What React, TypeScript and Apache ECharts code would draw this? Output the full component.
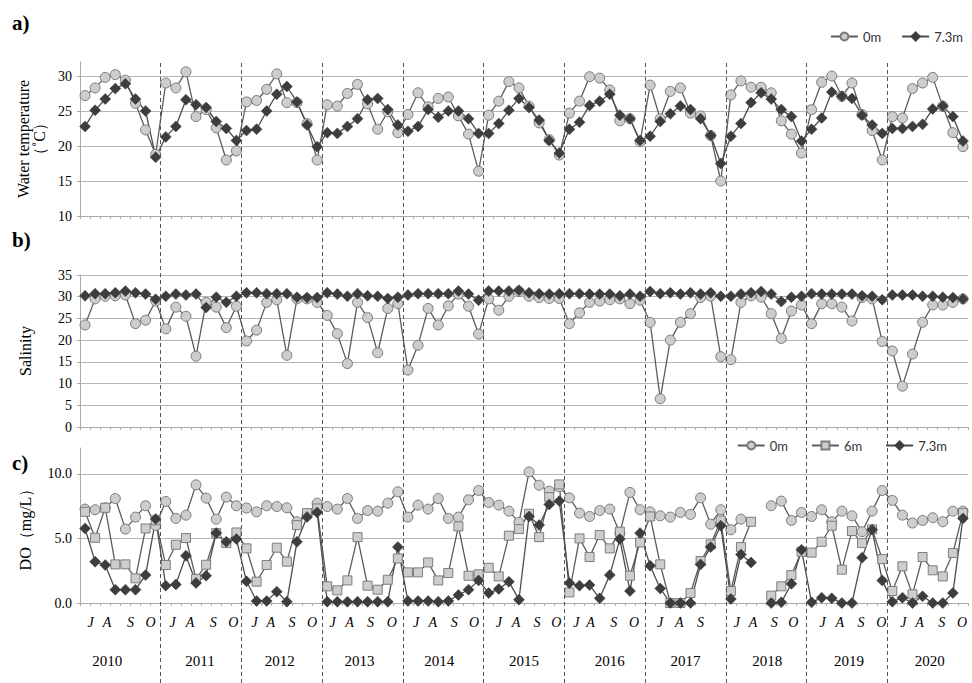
import React, { useEffect, useRef } from 'react';
import * as echarts from 'echarts';

const years = ['2010', '2011', '2012', '2013', '2014', '2015', '2016', '2017', '2018', '2019', '2020'];
const samplesPerYear = 8;
const categories = years.flatMap((y) => Array.from({ length: samplesPerYear }, (_, i) => `${y}-${i + 1}`));

// a) Water temperature (°C)
const temp0m = [
  27.2, 28.3, 29.8, 30.2, 29.4, 26.1, 22.3, 18.8,
  29.0, 28.3, 30.6, 24.2, 25.2, 22.6, 18.0, 19.3,
  26.3, 26.5, 28.1, 30.3, 26.2, 26.2, 23.2, 18.0,
  25.9, 25.7, 27.5, 28.8, 26.0, 22.4, 24.9, 21.9,
  24.5, 27.6, 25.6, 26.8, 27.0, 24.3, 21.7, 16.4,
  24.4, 26.4, 29.2, 28.3, 25.7, 23.3, 20.9, 18.7,
  24.7, 26.4, 29.9, 29.7, 28.0, 23.6, 23.9, 20.6,
  28.7, 23.9, 27.8, 28.3, 24.7, 24.3, 21.5, 15.0,
  27.3, 29.3, 28.4, 28.4, 27.6, 23.6, 21.7, 19.0,
  25.2, 29.1, 30.0, 27.1, 29.0, 24.5, 22.2, 18.0,
  24.2, 24.0, 28.2, 29.0, 29.8, 25.7, 21.9, 19.9,
];
const temp73m = [
  22.8, 25.1, 26.7, 28.2, 28.9, 26.7, 25.0, 18.4,
  21.3, 22.8, 26.6, 25.9, 25.5, 23.5, 22.5, 20.8,
  22.2, 22.4, 25.0, 27.4, 28.5, 26.3, 23.0, 19.9,
  21.9, 21.8, 22.8, 23.9, 26.6, 26.8, 25.2, 23.0,
  22.1, 22.8, 25.2, 24.1, 25.0, 25.0, 23.9, 21.8,
  21.8, 23.2, 25.1, 26.8, 25.5, 23.7, 20.8, 19.0,
  22.4, 23.4, 25.8, 26.4, 27.4, 24.4, 23.9, 20.8,
  21.4, 23.5, 24.6, 25.7, 25.2, 23.9, 21.5, 17.5,
  21.4, 23.2, 26.2, 27.6, 26.7, 25.2, 24.2, 20.7,
  22.4, 24.0, 27.7, 27.1, 26.8, 24.4, 23.0, 21.8,
  22.5, 22.5, 22.8, 23.1, 25.3, 25.7, 24.2, 20.7,
];

// b) Salinity
const sal0m = [
  23.5, 29.5, 30.1, 30.2, 30.4, 23.8, 24.6, 29.0,
  22.6, 27.6, 25.5, 16.3, 28.7, 27.6, 22.9, 27.8,
  19.8, 22.3, 28.7, 29.3, 16.5, 29.5, 29.5, 28.7,
  25.7, 21.5, 14.6, 28.7, 25.2, 17.1, 27.3, 28.4,
  13.1, 18.8, 27.3, 23.5, 27.9, 30.6, 27.8, 21.4,
  29.5, 26.9, 30.1, 31.2, 30.1, 29.8, 29.6, 29.6,
  23.8, 26.3, 28.7, 29.0, 29.3, 29.5, 28.4, 29.2,
  24.1, 6.5, 20.0, 24.1, 26.1, 29.8, 30.1, 16.2,
  15.5, 28.7, 30.2, 29.9, 26.1, 20.4, 26.7, 28.1,
  23.8, 28.4, 28.4, 27.6, 24.4, 29.8, 29.5, 19.7,
  17.5, 9.4, 16.8, 24.1, 28.1, 28.1, 28.7, 29.5,
];
const sal73m = [
  30.2, 30.7, 30.7, 30.9, 31.3, 30.9, 30.6, 29.4,
  30.1, 30.6, 30.4, 30.6, 27.5, 29.9, 28.7, 30.1,
  30.9, 30.9, 30.7, 30.7, 30.7, 29.9, 29.8, 29.8,
  30.9, 30.6, 30.1, 30.7, 30.2, 30.1, 29.6, 29.9,
  30.4, 30.7, 30.7, 30.7, 30.7, 31.3, 30.6, 29.2,
  31.3, 31.3, 31.3, 31.5, 30.9, 30.7, 30.6, 30.7,
  30.7, 30.7, 30.6, 30.6, 30.6, 30.2, 30.6, 30.1,
  31.2, 30.7, 30.9, 30.6, 30.9, 30.6, 30.9, 30.1,
  30.1, 30.6, 30.9, 31.2, 30.6, 28.9, 29.9, 30.1,
  30.7, 30.6, 30.6, 30.6, 30.6, 30.2, 30.1, 29.3,
  30.4, 30.4, 30.4, 30.1, 30.1, 29.9, 29.8, 29.5,
];

// c) DO (mg/L)
const do0m = [
  7.27, 7.22, 7.37, 8.09, 5.72, 6.65, 7.53, 6.0,
  7.86, 6.55, 6.8, 9.15, 8.12, 6.49, 8.2, 7.53,
  7.35, 7.06, 7.53, 7.47, 7.37, 6.29, 6.86, 7.73,
  7.47, 7.27, 8.09, 6.55, 7.16, 7.11, 7.73, 8.61,
  6.65, 7.58, 7.27, 8.09, 6.55, 6.65, 7.99, 8.71,
  7.78, 7.58, 7.11, 6.24, 10.15, 9.12, 8.66, 9.0,
  8.14, 6.96, 6.7, 7.16, 7.27, 5.41, 8.56, 7.22,
  7.06, 6.75, 6.65, 7.01, 6.86, 8.14, 6.1, 7.22,
  5.67, 6.49, null, null, 7.53, 7.89, 6.39, 7.01,
  6.7, 7.22, 6.29, 7.11, 6.75, 5.52, 7.11, 8.71,
  7.94, 6.8, 6.19, 6.39, 6.6, 6.29, 7.11, 7.11,
];
const do6m = [
  7.06, 5.05, 7.37, 2.99, 2.99, 1.91, 5.77, 6.4,
  2.94, 4.51, 5.03, 1.86, 2.96, 5.41, 4.64, 5.46,
  4.23, 1.65, 2.94, 4.28, 3.2, 6.03, 6.96, 7.32,
  1.29, 0.98, 1.75, 5.1, 1.34, 1.03, 1.8, 3.45,
  2.37, 2.37, 3.14, 1.75, 2.32, 5.93, 2.11, 2.22,
  2.73, 2.06, 5.21, 5.72, 6.91, 5.1, 8.2, 9.18,
  0.82, 5.0, 3.56, 5.26, 4.23, 5.52, 2.11, 4.69,
  6.7, 2.99, 0.0, 0.0, 0.77, 3.25, 4.54, 6.39,
  0.93, 4.33, 6.29, null, 0.57, 1.29, 2.16, 3.97,
  3.9, 4.74, 5.98, 2.58, 5.57, 4.64, 5.7, 3.4,
  0.93, 2.84, 0.67, 3.56, 2.53, 2.06, 3.87, 6.96,
];
const do73m = [
  5.77, 3.2, 2.94, 1.03, 1.03, 1.03, 2.16, 6.5,
  1.34, 1.44, 3.66, 1.55, 2.11, 5.41, 4.74, 4.95,
  1.68, 0.15, 0.15, 0.88, 0.1, 4.74, 6.65, 7.01,
  0.1, 0.1, 0.1, 0.1, 0.1, 0.1, 0.1, 4.33,
  0.15, 0.15, 0.15, 0.1, 0.15, 0.62, 1.03, 1.75,
  0.77, 1.08, 1.65, 0.26, 6.7, 6.03, 7.63, 7.89,
  1.55, 1.34, 1.39, 0.36, 2.16, 4.95, 0.93, 5.41,
  2.89, 1.13, 0.0, 0.0, 0.0, 2.99, 4.33, 5.98,
  0.31, 3.76, 3.14, null, 0.0, 0.05, 1.49, 4.12,
  0.05, 0.41, 0.36, 0.0, 0.0, 3.51, 5.67, 1.75,
  0.1, 0.41, 0.0, 0.52, 0.0, 0.0, 0.77, 6.55,
];

// month tick labels under panel c (position within each year, in sample units)
const monthNames = ['J', 'A', 'S', 'O'];
const monthPosInYear: (number | null)[][] = [
  [1.06, 2.68, 5.0, 7.0],
  [1.18, 2.9, 5.2, 7.2],
  [1.3, 2.9, 5.0, 7.0],
  [1.04, 2.7, 4.8, 6.9],
  [1.3, 2.96, 5.1, 7.05],
  [1.5, 3.2, 5.3, 7.2],
  [1.2, 2.6, 4.9, 6.9],
  [1.5, 3.4, 5.5, null],
  [1.1, 2.7, 4.8, 6.7],
  [1.6, 3.3, 5.4, 7.4],
  [1.6, 3.2, 5.4, 7.4],
];
const yearLabelPosInYear = [2.7, 3.9, 3.8, 3.7, 3.6, 4.0, 4.5, 4.0, 4.1, 4.2, 4.2];

const SERIF = '"Liberation Serif", "Times New Roman", serif';
const SANS = 'Lato, "Liberation Sans", sans-serif';
const GRID_COLOR = '#b5b5b5';
const AXIS_COLOR = '#a8a8a8';

export default function App() {
  const ref = useRef<HTMLDivElement>(null);

  useEffect(() => {
    if (!ref.current) return;
    const chart = echarts.init(ref.current, null, { renderer: 'svg' });

    const monthVals: number[] = [];
    const monthTexts: string[] = [];
    monthPosInYear.forEach((arr, k) => {
      arr.forEach((p, j) => {
        if (p !== null) {
          monthVals.push(p + k * samplesPerYear);
          monthTexts.push(monthNames[j]);
        }
      });
    });
    const yearVals = yearLabelPosInYear.map((p, k) => p + k * samplesPerYear);
    const dividerVals = years.slice(1).map((_, k) => (k + 1) * samplesPerYear);
    const total = years.length * samplesPerYear;

    const lookup = (vals: number[], texts: string[]) => (v: number) => {
      let best = -1;
      let bd = 1e9;
      vals.forEach((x, i) => {
        const d = Math.abs(x - v);
        if (d < bd) {
          bd = d;
          best = i;
        }
      });
      return bd < 0.01 ? texts[best] : '';
    };

    const catAxis = (gridIndex: number) => ({
      type: 'category',
      gridIndex,
      data: categories,
      boundaryGap: true,
      position: 'bottom',
      axisLine: { show: true, onZero: false, lineStyle: { color: AXIS_COLOR, width: 1 } },
      axisTick: { show: true, interval: 0, length: 3, lineStyle: { color: AXIS_COLOR } },
      axisLabel: { show: false },
      splitLine: { show: false },
    });

    const labelAxis = (gridIndex: number, vals: number[], texts: string[], extra: any) => ({
      type: 'value',
      gridIndex,
      min: 0,
      max: total,
      position: 'bottom',
      axisLine: { show: false },
      axisTick: { show: false },
      splitLine: { show: false },
      axisLabel: {
        show: true,
        customValues: vals,
        formatter: lookup(vals, texts),
        fontFamily: SERIF,
        color: '#000',
        hideOverlap: false,
        ...extra,
      },
    });

    const valAxis = (gridIndex: number, min: number, max: number, name: string, nameGap: number, fmt?: (v: number) => string) => ({
      type: 'value',
      gridIndex,
      min,
      max,
      interval: 5,
      name,
      nameLocation: 'middle',
      nameRotate: 90,
      nameGap,
      nameMoveOverlap: false,
      nameTextStyle: { fontFamily: SERIF, fontSize: 16, color: '#000', lineHeight: 16 },
      axisLine: { show: true, lineStyle: { color: AXIS_COLOR, width: 1 } },
      axisTick: { show: true, length: 3, lineStyle: { color: AXIS_COLOR } },
      axisLabel: {
        fontFamily: SERIF,
        fontSize: 14,
        color: '#000',
        margin: 8,
        showMaxLabel: max % 5 === 0,
        formatter: fmt,
      },
      splitLine: { show: true, showMaxLine: max % 5 === 0, lineStyle: { color: GRID_COLOR, width: 1 } },
    });

    const s0 = {
      symbol: 'circle',
      symbolSize: 10,
      itemStyle: { color: '#cdcdcd', borderColor: '#7a7a7a', borderWidth: 1 },
      lineStyle: { color: '#5c5c5c', width: 1.3 },
    };
    const s6 = {
      symbol: 'rect',
      symbolSize: 9,
      itemStyle: { color: '#cdcdcd', borderColor: '#7d7d7d', borderWidth: 1 },
      lineStyle: { color: '#5c5c5c', width: 1.3 },
    };
    const s73 = {
      symbol: 'diamond',
      symbolSize: 11,
      itemStyle: { color: '#3d3d3d', borderColor: '#3d3d3d', borderWidth: 0.5 },
      lineStyle: { color: '#4d4d4d', width: 1.3 },
    };
    const line = (name: string, style: any, data: (number | null)[], idx: number) => ({
      type: 'line',
      name,
      xAxisIndex: idx,
      yAxisIndex: idx,
      data,
      connectNulls: false,
      showSymbol: true,
      showAllSymbol: true,
      silent: true,
      ...style,
    });

    const option: any = {
      animation: false,
      backgroundColor: '#ffffff',
      textStyle: { fontFamily: SERIF },
      grid: [
        { left: 80, right: 4, top: 62, height: 154, outerBoundsMode: 'none' },
        { left: 80, right: 4, top: 275, height: 152, outerBoundsMode: 'none' },
        { left: 80, right: 4, top: 448, height: 155, outerBoundsMode: 'none' },
        { left: 80, right: 4, top: 62, bottom: 0, outerBoundsMode: 'none' },
        { left: 80, right: 4, top: 448, height: 155, outerBoundsMode: 'none' },
      ],
      legend: [
        {
          data: ['0m', '7.3m'],
          right: 4,
          top: 25,
          itemWidth: 27,
          itemHeight: 10,
          itemGap: 20,
          selectedMode: false,
          textStyle: { fontFamily: SANS, fontSize: 13, color: '#333' },
        },
        {
          data: ['0m', '6m', '7.3m'],
          right: 20,
          top: 434,
          itemWidth: 27,
          itemHeight: 10,
          itemGap: 23,
          selectedMode: false,
          textStyle: { fontFamily: SANS, fontSize: 13, color: '#333' },
        },
      ],
      xAxis: [
        catAxis(0),
        catAxis(1),
        catAxis(2),
        labelAxis(2, monthVals, monthTexts, { fontStyle: 'italic', fontSize: 14, margin: 12 }),
        labelAxis(4, yearVals, years, { fontSize: 15, margin: 50 }),
        { type: 'value', gridIndex: 3, min: 0, max: total, show: false },
      ],
      yAxis: [
        valAxis(0, 10, 32, 'Water temperature\n（˚C）', 33, undefined),
        valAxis(1, 0, 35, 'Salinity', 47),
        valAxis(2, 0, 12, 'DO（mg/L）', 47, (v: number) => v.toFixed(1)),
        { type: 'value', gridIndex: 3, min: 0, max: 1, show: false },
        { type: 'value', gridIndex: 4, min: 0, max: 1, show: false },
      ],
      series: [
        line('0m', s0, temp0m, 0),
        line('7.3m', s73, temp73m, 0),
        line('0m', s0, sal0m, 1),
        line('7.3m', s73, sal73m, 1),
        line('0m', s0, do0m, 2),
        line('6m', s6, do6m, 2),
        line('7.3m', s73, do73m, 2),
        {
          type: 'line',
          name: 'dividers',
          xAxisIndex: 5,
          yAxisIndex: 3,
          data: [[0, -5]],
          showSymbol: false,
          lineStyle: { width: 0 },
          silent: true,
          z: 1,
          markLine: {
            silent: true,
            symbol: ['none', 'none'],
            label: { show: false },
            lineStyle: { type: [4, 3], color: '#555555', width: 1 },
            data: dividerVals.map((v) => ({ xAxis: v })),
          },
        },
        {
          type: 'line',
          name: 'yearLabelsHolder',
          xAxisIndex: 4,
          yAxisIndex: 4,
          data: [[0, -5]],
          showSymbol: false,
          lineStyle: { width: 0 },
          silent: true,
        },
      ],
      graphic: [
        { type: 'text', left: 12, top: 12, style: { text: 'a)', font: `bold 21px ${SERIF}`, fill: '#000' } },
        { type: 'text', left: 12, top: 229, style: { text: 'b)', font: `bold 21px ${SERIF}`, fill: '#000' } },
        { type: 'text', left: 12, top: 452, style: { text: 'c)', font: `bold 21px ${SERIF}`, fill: '#000' } },
      ],
    };

    chart.setOption(option);
    return () => chart.dispose();
  }, []);

  return (
    <div
      ref={ref}
      style={{ position: 'fixed', left: 0, top: 0, width: 972, height: 683, background: '#fff' }}
    />
  );
}
